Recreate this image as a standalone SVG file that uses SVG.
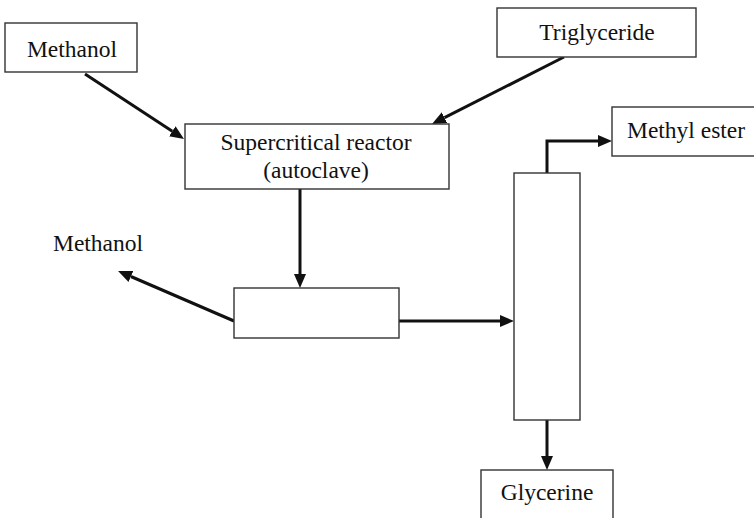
<svg xmlns="http://www.w3.org/2000/svg" width="754" height="518" viewBox="0 0 754 518">
<style>
.box{fill:#fff;stroke:#333;stroke-width:1.4}
.lbl{font-family:"Liberation Serif","Times New Roman",serif;font-size:23.5px;fill:#111}
.c{text-anchor:middle}
.arr{fill:none;stroke:#111;stroke-width:3;marker-end:url(#ah)}
</style>
<defs>
<marker id="ah" viewBox="0 0 14 12" refX="0" refY="6" markerWidth="14" markerHeight="12" markerUnits="userSpaceOnUse" orient="auto">
<path d="M0,0 L14,6 L0,12 z" fill="#111"/>
</marker>
</defs>
<rect width="754" height="518" fill="#fff"/>
<g id="connectors">
<line class="arr" x1="85" y1="74" x2="172.3" y2="131.3"/>
<line class="arr" x1="564" y1="57" x2="444.5" y2="117.7"/>
<line class="arr" x1="300" y1="189" x2="300" y2="274"/>
<line class="arr" x1="234" y1="321" x2="130.9" y2="276.5"/>
<line class="arr" x1="399" y1="321" x2="500" y2="321"/>
<polyline class="arr" points="547,173 547,141 598,141"/>
<line class="arr" x1="547" y1="420" x2="547" y2="456"/>
</g>
<g id="methanol-in">
<rect class="box" x="5" y="23" width="132" height="49"/>
<text class="lbl c" x="72" y="57">Methanol</text>
</g>
<g id="triglyceride">
<rect class="box" x="497" y="8" width="199" height="49"/>
<text class="lbl c" x="597" y="40">Triglyceride</text>
</g>
<g id="reactor">
<rect class="box" x="185" y="124" width="264" height="65"/>
<text class="lbl c" x="316" y="150">Supercritical reactor</text>
<text class="lbl c" x="316" y="178">(autoclave)</text>
</g>
<g id="separator">
<rect class="box" x="234" y="288" width="165" height="50"/>
</g>
<g id="methanol-out">
<text class="lbl" x="53" y="251">Methanol</text>
</g>
<g id="column">
<rect class="box" x="514" y="173" width="66" height="247"/>
</g>
<g id="methyl-ester">
<rect class="box" x="612" y="107" width="150" height="49"/>
<text class="lbl" x="627" y="138">Methyl ester</text>
</g>
<g id="glycerine">
<rect class="box" x="481" y="470" width="132" height="60"/>
<text class="lbl c" x="547" y="500">Glycerine</text>
</g>
</svg>
